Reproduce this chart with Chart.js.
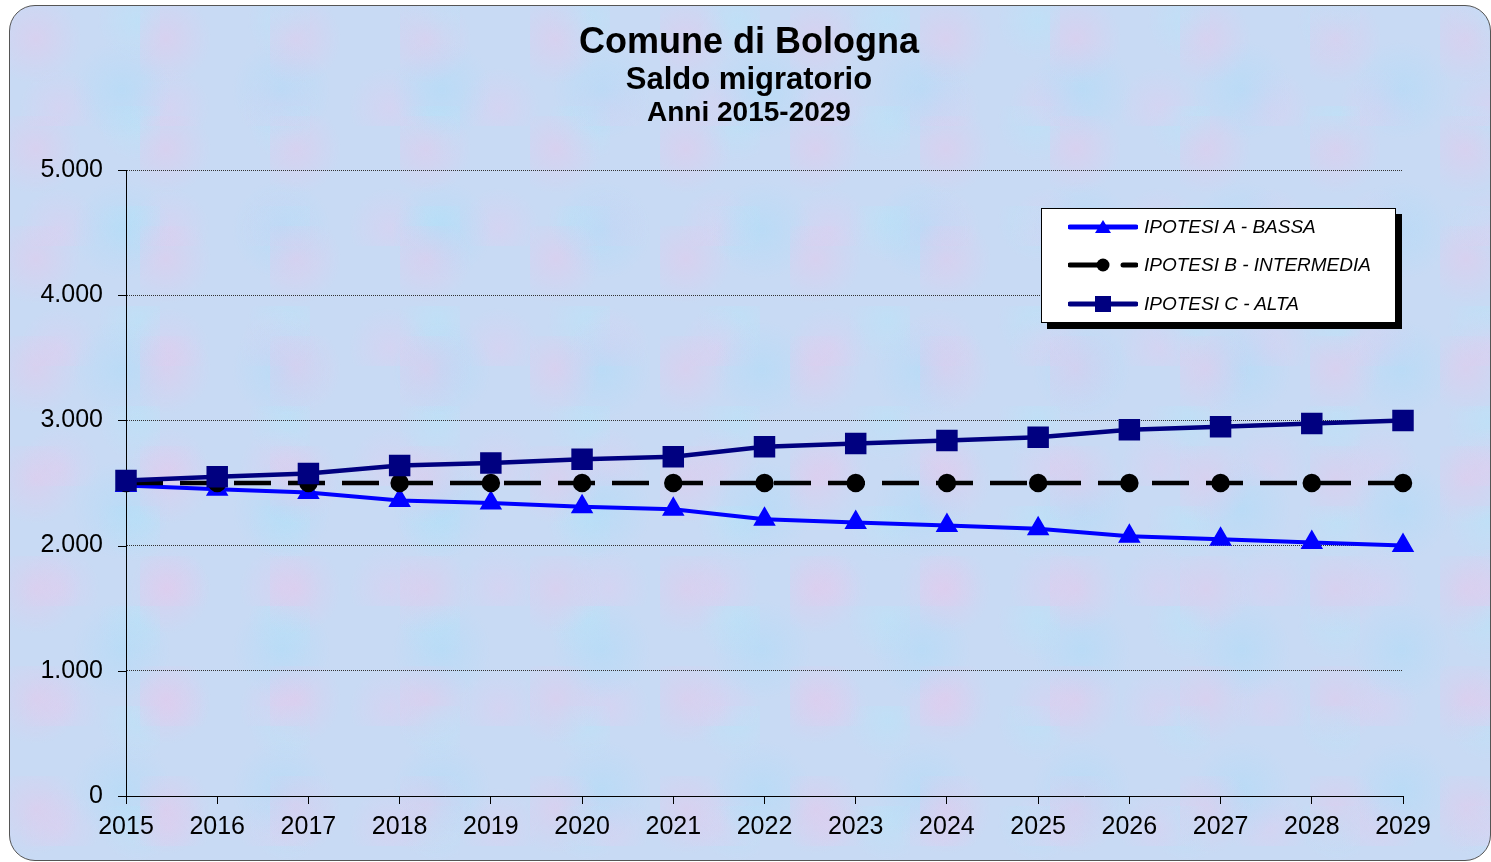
<!DOCTYPE html>
<html>
<head>
<meta charset="utf-8">
<script src="https://cdn.jsdelivr.net/npm/chart.js@4/dist/chart.umd.min.js"></script>
<style>
  html, body { margin: 0; padding: 0; background: #fff; }
  #wrap { position: relative; width: 1491px; height: 862px; overflow: hidden; font-family: "Liberation Sans", Arial, sans-serif; }
  #frame {
    position: absolute; left: 9px; top: 5px; width: 1480px; height: 854px;
    border: 1px solid #555; border-radius: 26px;
    background-color: #c8daf4;
    background-image:
      radial-gradient(circle at 20% 30%, rgba(230,200,235,0.5) 0, rgba(230,200,235,0) 45px),
      radial-gradient(circle at 70% 60%, rgba(175,220,248,0.55) 0, rgba(175,220,248,0) 50px),
      radial-gradient(circle at 45% 85%, rgba(225,205,240,0.45) 0, rgba(225,205,240,0) 40px),
      radial-gradient(circle at 85% 15%, rgba(185,228,248,0.55) 0, rgba(185,228,248,0) 40px);
    background-size: 130px 110px, 160px 140px, 110px 120px, 150px 100px;
  }
  canvas#chart { position: absolute; left: 0; top: 0; }
  .title { position: absolute; left: 0; width: 1498px; text-align: center; font-weight: bold; color: #000; }
  #legend {
    position: absolute; left: 1041px; top: 208px; width: 353px; height: 113px;
    background: #fff; border: 1px solid #000; box-shadow: 6px 6px 0 #000;
  }
  .item { position: absolute; left: 26px; height: 24px; display: flex; align-items: center; }
  .item span { font-style: italic; font-size: 19px; margin-left: 6px; }
</style>
</head>
<body>
<div id="wrap">
  <div id="frame"></div>
  <canvas id="chart" width="1491" height="862"></canvas>
  <div class="title" style="top:20px;font-size:36px;">Comune di Bologna</div>
  <div class="title" style="top:61px;font-size:31px;">Saldo migratorio</div>
  <div class="title" style="top:96px;font-size:28px;">Anni 2015-2029</div>
  <div id="legend"></div>
</div>
<script>
const years = ["2015","2016","2017","2018","2019","2020","2021","2022","2023","2024","2025","2026","2027","2028","2029"];
const ipotesiA = [2480, 2450, 2425, 2360, 2340, 2310, 2290, 2210, 2185, 2160, 2135, 2075, 2050, 2025, 2000];
const ipotesiB = [2500, 2500, 2500, 2500, 2500, 2500, 2500, 2500, 2500, 2500, 2500, 2500, 2500, 2500, 2500];
const ipotesiC = [2520, 2550, 2575, 2640, 2660, 2690, 2710, 2790, 2815, 2840, 2865, 2925, 2950, 2975, 3000];
const yTickLabels = ["0", "1.000", "2.000", "3.000", "4.000", "5.000"];

const font = "'Liberation Sans', Arial, sans-serif";

// small solid tick marks on the left of the y axis
const yTicksPlugin = {
  id: "yTicks",
  afterDraw(chart) {
    const y = chart.scales.y, c = chart.ctx;
    c.save();
    c.strokeStyle = "#000";
    c.lineWidth = 1;
    y.ticks.forEach(t => {
      const py = Math.round(y.getPixelForValue(t.value)) + 0.5;
      c.beginPath();
      c.moveTo(y.right - 8, py);
      c.lineTo(y.right, py);
      c.stroke();
    });
    c.restore();
  }
};

const ctx = document.getElementById("chart").getContext("2d");
const chart = new Chart(ctx, {
  type: "line",
  data: {
    labels: years,
    datasets: [
      {
        label: "IPOTESI A - BASSA",
        data: ipotesiA,
        borderColor: "#0000ff",
        backgroundColor: "#0000ff",
        borderWidth: 4,
        pointStyle: "triangle",
        pointRadius: 9,
        tension: 0,
        clip: false,
        order: 3
      },
      {
        label: "IPOTESI B - INTERMEDIA",
        data: ipotesiB,
        borderColor: "#000000",
        backgroundColor: "#000000",
        borderWidth: 4.5,
        borderDash: [37, 17],
        pointStyle: "circle",
        pointRadius: 7,
        tension: 0,
        clip: false,
        order: 2
      },
      {
        label: "IPOTESI C - ALTA",
        data: ipotesiC,
        borderColor: "#000080",
        backgroundColor: "#000080",
        borderWidth: 4.5,
        pointStyle: "rect",
        pointRadius: 12,
        tension: 0,
        clip: false,
        order: 1
      }
    ]
  },
  options: {
    responsive: false,
    animation: false,
    layout: { padding: { left: 0, right: 88, top: 170, bottom: 0 } },
    plugins: {
      legend: { display: false },
      title: { display: false },
      tooltip: { enabled: false }
    },
    scales: {
      x: {
        type: "category",
        offset: false,
        grid: { drawOnChartArea: false, drawTicks: true, tickLength: 8, color: "#000" },
        border: { color: "#000", width: 1 },
        ticks: { color: "#000", font: { family: font, size: 25 }, padding: 8, maxRotation: 0, autoSkip: false },
        afterFit(s) { s.height = 66; }
      },
      y: {
        min: 0,
        max: 5000,
        grid: { drawTicks: false, color: "#333", lineWidth: 1 },
        border: { color: "#000", width: 1, dash: [1, 1] },
        ticks: {
          stepSize: 1000,
          color: "#000",
          padding: 23,
          font: { family: font, size: 25 },
          callback: v => yTickLabels[v / 1000]
        },
        afterFit(s) { s.width = 126; }
      }
    }
  },
  plugins: [yTicksPlugin]
});

// legend built from the datasets
const legend = document.getElementById("legend");
const rowTops = [6, 44, 83];
chart.data.datasets.forEach((ds, i) => {
  const item = document.createElement("div");
  item.className = "item";
  item.style.top = rowTops[i] + "px";
  const col = ds.borderColor;
  let marker = "";
  if (ds.pointStyle === "triangle") marker = `<polygon points="35,5 43,18 27,18" fill="${col}"/>`;
  if (ds.pointStyle === "circle") marker = `<circle cx="35" cy="12" r="6.5" fill="${col}"/>`;
  if (ds.pointStyle === "rect") marker = `<rect x="27" y="4" width="16" height="16" fill="${col}"/>`;
  const line = ds.borderDash
    ? `<line x1="2" y1="12" x2="37" y2="12" stroke="${col}" stroke-width="5" stroke-linecap="round"/><line x1="55" y1="12" x2="68" y2="12" stroke="${col}" stroke-width="5" stroke-linecap="round"/>`
    : `<line x1="2" y1="12" x2="68" y2="12" stroke="${col}" stroke-width="5" stroke-linecap="round"/>`;
  item.innerHTML = `<svg width="70" height="24">${line}${marker}</svg><span>${ds.label}</span>`;
  legend.appendChild(item);
});
</script>
</body>
</html>
